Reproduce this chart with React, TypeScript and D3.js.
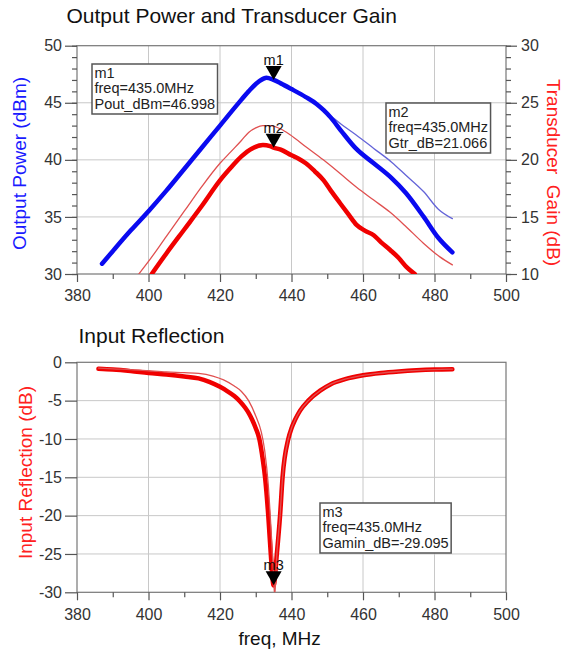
import { useEffect, useRef } from 'react';
import * as d3 from 'd3';

const FONT = '"Liberation Sans", Arial, Helvetica, sans-serif';

// output power, dBm (thick = measured, thin = second trace)
const poutFreq = [387, 390, 395, 400, 405, 410, 415, 420, 425, 428, 431, 433, 435, 437, 440, 444, 447, 449, 451, 454, 458, 463, 468, 472, 477, 481, 485];
const poutThick = [30.9, 32.0, 33.8, 35.5, 37.3, 39.2, 41.1, 43.0, 44.9, 46.0, 46.9, 47.2, 47.0, 46.7, 46.2, 45.5, 44.9, 44.35, 43.7, 42.5, 41.0, 39.7, 38.4, 37.1, 35.0, 33.2, 31.9];
const poutThin = [30.9, 32.0, 33.8, 35.5, 37.3, 39.2, 41.1, 43.0, 44.9, 46.0, 46.9, 47.2, 47.0, 46.7, 46.2, 45.5, 44.9, 44.35, 43.85, 43.1, 42.2, 41.0, 39.8, 38.65, 37.2, 35.7, 34.85];

// transducer gain, dB
const gainFreq = [400.9, 405, 410, 415, 420, 423, 426, 429, 432, 434, 435, 437, 440, 442, 444, 446.5, 449, 451, 453.6, 456, 458.2, 460.5, 463, 465, 467.6, 470, 472.2, 474.5];
const gainThick = [10.0, 11.8, 13.9, 16.0, 18.2, 19.3, 20.3, 21.0, 21.3, 21.2, 21.07, 20.9, 20.4, 20.1, 19.7, 19.0, 18.2, 17.3, 16.2, 15.2, 14.3, 13.8, 13.4, 12.8, 12.1, 11.4, 10.6, 10.0];
const gainThinFreq = [397.3, 400, 405, 410, 415, 420, 423, 426, 428, 430, 432, 434, 437, 439.6, 444.2, 448.9, 453.6, 458.2, 462.9, 467.6, 472.2, 476.9, 481.5, 485];
const gainThin = [10.0, 11.1, 13.3, 15.5, 17.7, 19.7, 20.7, 21.7, 22.4, 22.8, 23.0, 23.0, 22.7, 22.2, 21.1, 20.0, 18.8, 17.6, 16.5, 15.4, 14.1, 12.7, 11.5, 10.8];

// input reflection, dB
const reflFreq = [386, 390, 395, 400, 405, 410, 414, 417, 420, 422, 424, 425.6, 427, 428, 429, 430, 431, 432, 432.6, 433.5, 434.2, 435, 435.9, 436.8, 437.5, 439.1, 440, 441, 442.4, 444.7, 448, 451, 455, 460, 465, 470, 475, 480, 485];
const reflThick = [-0.85, -0.95, -1.15, -1.4, -1.6, -1.85, -2.1, -2.55, -3.2, -3.75, -4.4, -5.1, -5.9, -6.6, -7.5, -8.6, -10, -12.8, -15, -20, -25, -29.1, -25, -20, -15, -10, -8.6, -7.5, -6.3, -5.0, -3.7, -2.85, -2.2, -1.7, -1.4, -1.2, -1.05, -0.95, -0.9];
const reflThinFreq = [386, 390, 395, 400, 405, 410, 414, 418, 421, 424, 426, 428, 430, 431.5, 432.5, 433.5, 434.3, 434.9, 435.3, 435.9, 436.8, 437.5, 439.1, 440, 441, 442.4, 444.7, 448, 451, 455, 460, 465, 470, 475, 480, 485];
const reflThin = [-0.75, -0.85, -0.95, -1.1, -1.25, -1.35, -1.45, -1.8, -2.3, -3.1, -3.8, -5.0, -7.0, -9.0, -11.5, -16, -22, -27, -30.5, -25, -20, -15, -10, -8.6, -7.5, -6.3, -5.0, -3.7, -2.85, -2.2, -1.7, -1.4, -1.2, -1.05, -0.95, -0.9];

// markers
const markerNames = ['m1', 'm2', 'm3'];
const markerFreq = [435, 435, 435];
const markerVals = [46.998, 21.066, -29.095];
const markerText = [
  ['m1', 'freq=435.0MHz', 'Pout_dBm=46.998'],
  ['m2', 'freq=435.0MHz', 'Gtr_dB=21.066'],
  ['m3', 'freq=435.0MHz', 'Gamin_dB=-29.095'],
];

const freqMajor = [380, 400, 420, 440, 460, 480, 500];
const freqMinor = [390, 410, 430, 450, 470, 490];
const poutTicks = [30, 35, 40, 45, 50];
const gainTicks = [10, 15, 20, 25, 30];
const reflTicks = [-30, -25, -20, -15, -10, -5, 0];

const BLUE = '#0a0af0';
const BLUE_THIN = '#6464d8';
const RED = '#f00000';
const RED_THIN = '#e05050';

export default function App() {
  const svgRef = useRef<SVGSVGElement>(null);

  useEffect(() => {
    const svg = d3.select(svgRef.current);
    svg.selectAll('*').remove();

    const L = 77, R = 506;
    const t1 = 45.7, b1 = 274;
    const t2 = 362.3, b2 = 592.3;

    const x = d3.scaleLinear().domain([380, 500]).range([L, R]);
    const yPout = d3.scaleLinear().domain([30, 50]).range([b1, t1]);
    const yGain = d3.scaleLinear().domain([10, 30]).range([b1, t1]);
    const yRefl = d3.scaleLinear().domain([-30, 0]).range([b2, t2]);

    const defs = svg.append('defs');
    defs.append('clipPath').attr('id', 'clipTop')
      .append('rect').attr('x', L).attr('y', t1).attr('width', R - L).attr('height', b1 - t1);
    defs.append('clipPath').attr('id', 'clipBot')
      .append('rect').attr('x', L).attr('y', t2).attr('width', R - L).attr('height', b2 - t2);

    // grids
    const grid = (y: d3.ScaleLinear<number, number>, ticks: number[], top: number, bot: number) => {
      const g = svg.append('g').attr('stroke', '#c8c8c8').attr('stroke-width', 1);
      freqMajor.slice(1, -1).forEach(f => {
        g.append('line').attr('x1', x(f)).attr('x2', x(f)).attr('y1', top).attr('y2', bot);
      });
      ticks.slice(1, -1).forEach(v => {
        g.append('line').attr('x1', L).attr('x2', R).attr('y1', y(v)).attr('y2', y(v));
      });
      svg.append('rect').attr('x', L).attr('y', top).attr('width', R - L).attr('height', bot - top)
        .attr('fill', 'none').attr('stroke', '#777').attr('stroke-width', 1.2);
    };
    grid(yPout, poutTicks, t1, b1);
    grid(yRefl, reflTicks, t2, b2);

    // axes
    const styleAxis = (g: d3.Selection<SVGGElement, unknown, null, undefined>) => {
      g.select('.domain').remove();
      g.selectAll('line').attr('stroke', '#555').attr('stroke-width', 1.2);
      g.selectAll('text').attr('font-size', 16).attr('fill', '#333').attr('font-family', FONT);
    };
    const fmt = (d: d3.NumberValue) => String(d);

    [b1, b2].forEach(b => {
      svg.append('g').attr('transform', `translate(0,${b})`)
        .call(d3.axisBottom(x).tickValues(freqMajor).tickSize(8).tickPadding(8).tickFormat(fmt))
        .call(styleAxis);
      svg.append('g').attr('transform', `translate(0,${b})`)
        .call(d3.axisBottom(x).tickValues(freqMinor).tickSize(5).tickFormat(() => ''))
        .call(styleAxis);
    });

    svg.append('g').attr('transform', `translate(${L},0)`)
      .call(d3.axisLeft(yPout).tickValues(poutTicks).tickSize(12).tickPadding(3).tickFormat(fmt))
      .call(styleAxis);
    svg.append('g').attr('transform', `translate(${L},0)`)
      .call(d3.axisLeft(yPout).tickValues(d3.range(30, 51, 1)).tickSize(5).tickFormat(() => ''))
      .call(styleAxis);
    svg.append('g').attr('transform', `translate(${R},0)`)
      .call(d3.axisRight(yGain).tickValues(gainTicks).tickSize(11).tickPadding(4).tickFormat(fmt))
      .call(styleAxis);
    svg.append('g').attr('transform', `translate(${R},0)`)
      .call(d3.axisRight(yGain).tickValues(d3.range(10, 31, 1)).tickSize(5).tickFormat(() => ''))
      .call(styleAxis);
    svg.append('g').attr('transform', `translate(${L},0)`)
      .call(d3.axisLeft(yRefl).tickValues(reflTicks).tickSize(12).tickPadding(3).tickFormat(fmt))
      .call(styleAxis);

    // traces
    const path = (xs: number[], ys: number[], y: d3.ScaleLinear<number, number>) =>
      d3.line<number>().x((_, i) => x(xs[i])).y(d => y(d)).curve(d3.curveMonotoneX)(ys);

    const top = svg.append('g').attr('clip-path', 'url(#clipTop)')
      .attr('fill', 'none').attr('stroke-linecap', 'round').attr('stroke-linejoin', 'round');
    top.append('path').attr('d', path(poutFreq, poutThin, yPout)).attr('stroke', BLUE_THIN).attr('stroke-width', 1.3);
    top.append('path').attr('d', path(poutFreq, poutThick, yPout)).attr('stroke', BLUE).attr('stroke-width', 4.5);
    top.append('path').attr('d', path(gainThinFreq, gainThin, yGain)).attr('stroke', RED_THIN).attr('stroke-width', 1.3);
    top.append('path').attr('d', path(gainFreq, gainThick, yGain)).attr('stroke', RED).attr('stroke-width', 4.5);

    const bot = svg.append('g').attr('clip-path', 'url(#clipBot)')
      .attr('fill', 'none').attr('stroke-linecap', 'round').attr('stroke-linejoin', 'round');
    bot.append('path').attr('d', path(reflFreq, reflThick, yRefl)).attr('stroke', RED).attr('stroke-width', 4.5);
    bot.append('path').attr('d', path(reflThinFreq, reflThin, yRefl)).attr('stroke', RED_THIN).attr('stroke-width', 1.3);

    // markers
    const yOf = [yPout, yGain, yRefl];
    markerNames.forEach((name, i) => {
      const px = x(markerFreq[i]);
      const py = yOf[i](markerVals[i]);
      svg.append('path').attr('d', `M${px - 8},${py - 14}L${px + 8},${py - 14}L${px},${py}Z`).attr('fill', '#000');
      svg.append('text').attr('x', px).attr('y', py - 15).attr('text-anchor', 'middle')
        .attr('font-family', FONT).attr('font-size', 14.5).attr('fill', '#111').text(name);
    });

    // marker readouts
    const boxPos = [[92, 64], [386, 103], [320, 503]];
    markerText.forEach((lines, i) => {
      const [bx, by] = boxPos[i];
      const g = svg.append('g');
      const rect = g.append('rect').attr('x', bx).attr('y', by).attr('height', 50)
        .attr('fill', '#fff').attr('stroke', '#555').attr('stroke-width', 1.5);
      const texts = lines.map((t, j) =>
        g.append('text').attr('x', bx + 2.5).attr('y', by + 13.5 + j * 15.5)
          .attr('font-family', FONT).attr('font-size', 14.5).attr('fill', '#222').text(t));
      const w = d3.max(texts, t => (t.node() as SVGTextElement).getComputedTextLength()) || 100;
      rect.attr('width', w + 5);
    });

    // titles
    const text = (s: string, tx: number, ty: number, size: number, fill: string, rot = 0, anchor = 'start') =>
      svg.append('text').attr('transform', `translate(${tx},${ty}) rotate(${rot})`)
        .attr('text-anchor', anchor).attr('font-family', FONT).attr('font-size', size).attr('fill', fill).text(s);

    text('Output Power and Transducer Gain', 66.5, 23, 21, '#111');
    text('Input Reflection', 78.5, 343, 21, '#111');
    text('Output Power (dBm)', 25.5, 163.5, 19, '#1a1aff', -90, 'middle');
    text('Transducer  Gain (dB)', 547, 172.5, 19, '#ff2020', 90, 'middle').style('white-space', 'pre');
    text('Input Reflection (dB)', 31.5, 472.5, 19, '#ff2020', -90, 'middle');
    text('freq, MHz', 238.5, 645, 19, '#111');
  }, []);

  return (
    <svg ref={svgRef} width={568} height={656}
      style={{ position: 'absolute', left: 0, top: 0, background: '#fff' }} />
  );
}
